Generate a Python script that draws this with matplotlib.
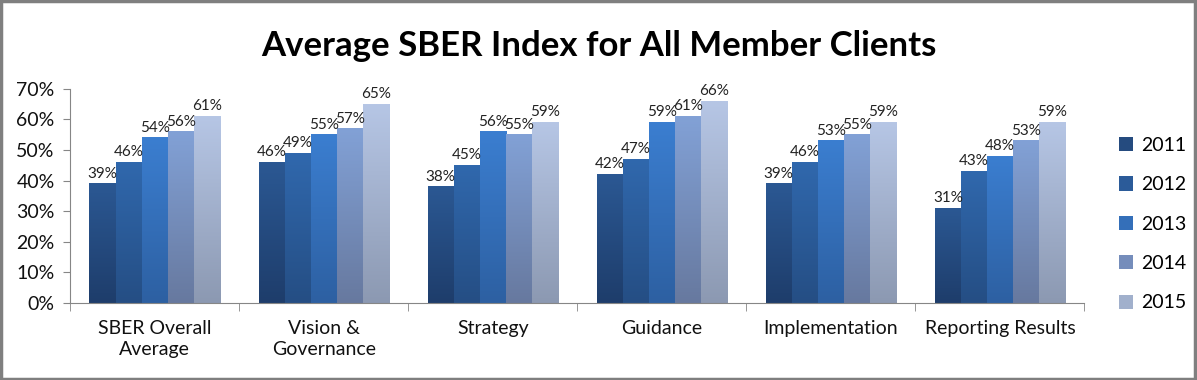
import matplotlib.pyplot as plt
import matplotlib.colors as mcolors
from matplotlib.patches import Rectangle
import numpy as np

categories = ["SBER Overall\nAverage", "Vision &\nGovernance", "Strategy",
              "Guidance", "Implementation", "Reporting Results"]
years = ["2011", "2012", "2013", "2014", "2015"]
v2011 = [39, 46, 38, 42, 39, 31]
v2012 = [46, 49, 45, 47, 46, 43]
v2013 = [54, 55, 56, 59, 53, 48]
v2014 = [56, 57, 55, 61, 55, 53]
v2015 = [61, 65, 59, 66, 59, 59]
series = [v2011, v2012, v2013, v2014, v2015]
ytick_labels = ["0%", "10%", "20%", "30%", "40%", "50%", "60%", "70%"]

# gradient (top, bottom) per year
grads = [("#2b5893", "#1e3d6b"), ("#3068ad", "#254e84"), ("#3b7ed0", "#2d60a2"),
         ("#82a1d6", "#67799f"), ("#b6c6e5", "#8c99b2")]

plt.rcParams['font.family'] = ['Lato', 'DejaVu Sans']

fig = plt.figure(figsize=(11.97, 3.80), dpi=100)
ax = fig.add_axes((0.0585, 0.2026, 0.8475, 0.5635))

x = np.arange(len(categories))
w = 0.154
gray = "#868686"

handles = []
for i, vals in enumerate(series):
    top, bot = grads[i]
    cmap = mcolors.LinearSegmentedColormap.from_list("g%d" % i, [bot, top])
    bars = ax.bar(x + (i - 2) * w, vals, w, color="none", zorder=2)
    for b in bars:
        x0, y0 = b.get_x(), b.get_y()
        ax.imshow(np.linspace(0, 1, 100).reshape(-1, 1), cmap=cmap, origin="lower",
                  extent=(x0, x0 + b.get_width(), y0, y0 + b.get_height()),
                  aspect="auto", zorder=2)
        ax.text(x0 + b.get_width() / 2, b.get_height() + 1.0, "%d%%" % b.get_height(),
                ha="center", va="bottom", fontsize=11, color="#222222", zorder=3)
    handles.append(Rectangle((0, 0), 1, 1, facecolor=mcolors.to_hex(cmap(0.5))))

ax.set_xlim(-0.5, len(categories) - 0.5)
ax.set_ylim(0, 70)
ax.set_yticks(range(0, 71, 10))
ax.set_yticklabels(ytick_labels, fontsize=14, color="#111111")
ax.set_xticks(x)
ax.set_xticklabels(categories, fontsize=14, color="#111111", linespacing=1.3)
ax.tick_params(axis="x", length=0, pad=12)
ax.set_xticks(np.arange(-0.5, len(categories), 1), minor=True)
ax.tick_params(axis="x", which="minor", length=6, color=gray, direction="out")
ax.tick_params(axis="y", length=5, color=gray, direction="out", pad=6)
for s in ["top", "right"]:
    ax.spines[s].set_visible(False)
for s in ["left", "bottom"]:
    ax.spines[s].set_color(gray)

fig.legend(handles=handles, labels=years, loc="center left",
           bbox_to_anchor=(0.92, 0.41), frameon=False, fontsize=14,
           handlelength=0.75, handleheight=0.75, labelspacing=1.15, handletextpad=0.4)

fig.text(0.5, 0.88, "Average SBER Index for All Member Clients", ha="center", va="center",
         fontsize=25, fontweight="bold", color="black")

fig.patches.append(Rectangle((0.001, 0.002), 0.997, 0.995, transform=fig.transFigure,
                             fill=False, edgecolor="#7f7f7f", linewidth=2.5))

fig.savefig("out.png", dpi=100)
